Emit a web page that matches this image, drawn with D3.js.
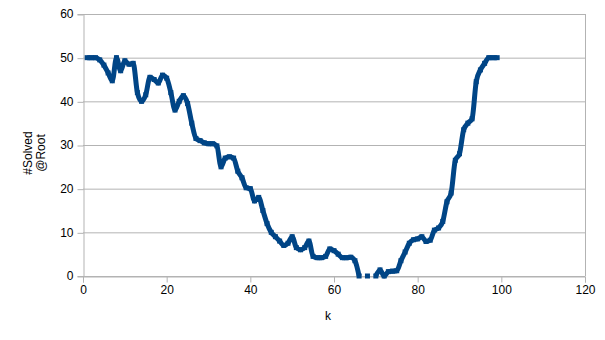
<!DOCTYPE html>
<html><head><meta charset="utf-8">
<script src="https://cdn.jsdelivr.net/npm/d3@7/dist/d3.min.js"></script>
<style>body{margin:0;background:#fff}svg{display:block}text{font-family:"Liberation Sans",Arial,sans-serif;fill:#000}</style>
</head><body><svg id="c" width="605" height="340"></svg>
<script>
const kValues = d3.range(1, 100);
const solved = [50,50,50,49.5,48.3,46.5,44.7,50,47,49.3,48.5,48.7,42,40,41.5,45.5,45,44.2,46,45.3,
42,38,40,41.3,39.5,35,31.5,31,30.5,30.3,30.3,29.8,25,27,27.3,27,24,22.5,20.2,20,
17.2,18,15,12,10,9,8,7,7.5,9,6.5,6,6.5,8,4.5,4.2,4.2,4.5,6.2,5.8,
5,4.2,4.2,4.3,3.5,0,null,0,null,0,1.4,0,1,1.1,1.2,3.5,5.5,7.5,8.3,8.5,
9,7.9,8.2,10.5,11,12.5,17,19,26.5,28,33.5,35,36,44.5,47.2,48.7,50,50,50];
const xTicks = [0,20,40,60,80,100,120];
const yTicks = [0,10,20,30,40,50,60];
const xTitle = "k";
const yTitle = ["#Solved","@Root"];

const data = kValues.map((k,i)=>({k, v: solved[i]}));
const svg = d3.select("#c");
const L=83, R=585, T=14, B=276;
const x = d3.scaleLinear().domain([0,120]).range([L,R]);
const y = d3.scaleLinear().domain([0,60]).range([B,T]);
const grid="#b3b3b3";

svg.append("g").selectAll("line").data(yTicks).join("line")
  .attr("x1",L).attr("x2",R).attr("y1",d=>y(d)+0.5).attr("y2",d=>y(d)+0.5)
  .attr("stroke",grid).attr("stroke-width",1);
svg.append("line").attr("x1",R+0.5).attr("x2",R+0.5).attr("y1",T).attr("y2",B).attr("stroke",grid);

const xa = svg.append("g").attr("transform",`translate(0,${B+0.5})`)
  .call(d3.axisBottom(x).tickValues(xTicks).tickSize(6).tickPadding(3));
const ya = svg.append("g").attr("transform",`translate(${L+0.5},0)`)
  .call(d3.axisLeft(y).tickValues(yTicks).tickSize(6).tickPadding(4));
[xa,ya].forEach(a=>{
  a.selectAll("path,line").attr("stroke",grid);
  a.selectAll("text").attr("font-size",12).attr("font-family","Liberation Sans, Arial, sans-serif").attr("fill","#000");
});
ya.selectAll(".tick line").attr("transform","translate(0,0.5)");

const line = d3.line().defined(d=>d.v!==null).curve(d3.curveMonotoneX).x(d=>x(d.k)).y(d=>y(d.v));
svg.append("path").datum(data).attr("d",line).attr("fill","none")
  .attr("stroke","#004586").attr("stroke-width",5).attr("stroke-linejoin","round");
svg.append("g").selectAll("rect").data(data.filter(d=>d.v!==null)).join("rect")
  .attr("x",d=>x(d.k)-2.5).attr("y",d=>y(d.v)-2.5).attr("width",5).attr("height",5)
  .attr("fill","#004586");

svg.append("text").attr("x",(L+R)/2-6).attr("y",320).attr("text-anchor","middle")
  .attr("font-size",12).text(xTitle);
const yt = svg.append("text").attr("transform","translate(32,153) rotate(-90)")
  .attr("text-anchor","middle").attr("font-size",12);
yTitle.forEach((t,i)=>yt.append("tspan").attr("x",0).attr("dy",i===0?"0":"1.05em").text(t));
</script></body></html>
